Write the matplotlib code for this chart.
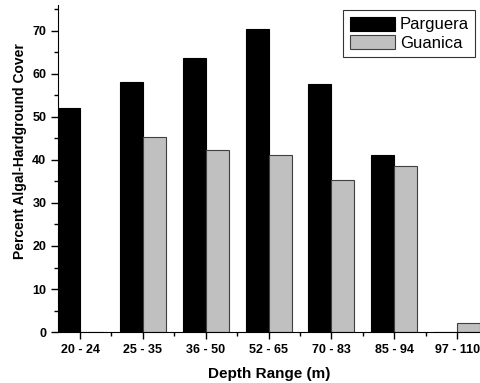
import numpy as np
import matplotlib
matplotlib.use("Agg")
import matplotlib.pyplot as plt
from matplotlib.ticker import MultipleLocator

plt.rcParams['font.family'] = ['Liberation Sans', 'DejaVu Sans']

depth_ranges = ['20 - 24', '25 - 35', '36 - 50', '52 - 65', '70 - 83', '85 - 94', '97 - 110']
parguera = [52.1, 58.0, 63.6, 70.4, 57.7, 41.2, 0.0]
guanica = [0.0, 45.3, 42.4, 41.2, 35.3, 38.5, 2.2]

x = np.arange(len(depth_ranges))
w = 0.365

fig = plt.figure(figsize=(4.8, 3.83), dpi=100)
ax = fig.add_axes([0.121, 0.133, 0.879, 0.854])

ax.bar(x, parguera, width=-w, align='edge', color='black', edgecolor='black',
       linewidth=0.8, label='Parguera')
ax.bar(x, guanica, width=w, align='edge', color='#c0c0c0', edgecolor='#404040',
       linewidth=0.8, label='Guanica')

ax.set_xlim(-0.35, len(depth_ranges) - 1 + w)
ax.set_ylim(0, 76)
ax.set_xticks(x)
ax.set_xticklabels(depth_ranges, fontsize=9, fontweight='bold')
ax.xaxis.set_minor_locator(MultipleLocator(1, offset=0.5))
ax.yaxis.set_major_locator(MultipleLocator(10))
ax.yaxis.set_minor_locator(MultipleLocator(5))
for lab in ax.get_yticklabels():
    lab.set_fontsize(9)
    lab.set_fontweight('bold')
ax.tick_params(which='major', direction='out', length=5, width=1)
ax.tick_params(which='minor', direction='out', length=3, width=1)
ax.spines['top'].set_visible(False)
ax.spines['right'].set_visible(False)

ax.set_xlabel('Depth Range (m)', fontsize=11, fontweight='bold', labelpad=8)
ax.set_ylabel('Percent Algal-Hardground Cover', fontsize=10, fontweight='bold', y=0.553)

leg = ax.legend(loc='upper left', bbox_to_anchor=(343 / 480, 1 - 10 / 383),
                bbox_transform=fig.transFigure, borderaxespad=0,
                fontsize=12, frameon=True, fancybox=False,
                handlelength=2.7, handleheight=0.9,
                labelspacing=0.15, handletextpad=0.3)
leg.get_frame().set_edgecolor('black')
leg.get_frame().set_linewidth(0.8)

fig.savefig('out.png', dpi=100)
